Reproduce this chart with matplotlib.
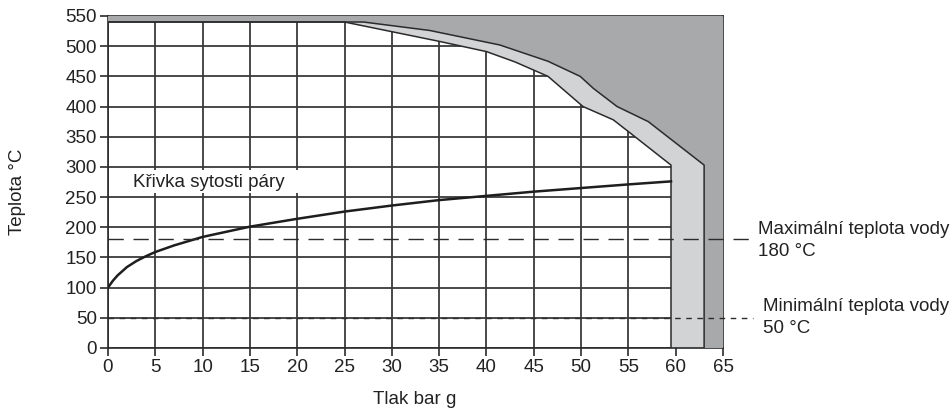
import matplotlib
matplotlib.use('Agg')
import matplotlib.pyplot as plt
from matplotlib.patches import Polygon, Rectangle

plt.rcParams['font.family'] = ['Liberation Sans', 'DejaVu Sans']
fs = 13.5
plt.rcParams['font.size'] = fs

# saturated steam curve (pressure bar g -> temperature degC)
sat_p = [0, 0.5, 1, 2, 3, 4, 5, 7, 10, 15, 20, 25, 30, 35, 40, 45, 50, 55, 59.5]
sat_t = [100, 111, 120, 134, 144, 152, 159, 170, 184, 201, 214, 226, 236, 245, 252, 259, 265, 271, 276]

# inner limit of the operating envelope
inner_p = [0, 25, 30, 35, 40, 43, 46.5, 48.5, 50.2, 53.4, 55.2, 59.5, 59.5]
inner_t = [540, 540, 524, 508, 491, 474, 450, 423, 400, 378, 356, 303, 0]

# outer limit
outer_p = [0, 27, 34, 41.4, 46.5, 49.9, 51.3, 53.8, 57.1, 63, 63]
outer_t = [540, 540, 526, 502, 475, 450, 430, 400, 375, 303, 0]

t_max_water = 180
t_min_water = 50

x_ticks = list(range(0, 66, 5))
y_ticks = list(range(0, 551, 50))

light_grey = '#d2d3d5'
dark_grey = '#a8a9ab'
line_col = '#2b2b2b'
text_col = '#222222'

fig = plt.figure(figsize=(9.52, 4.13), dpi=100)
ax = fig.add_axes([0.1134, 0.1574, 0.6461, 0.8039])

ax.set_xlim(0, 65)
ax.set_ylim(0, 550)
ax.set_xticks(x_ticks)
ax.set_yticks(y_ticks)
ax.grid(True, color='#3a3a3a', linewidth=1.3, zorder=0)
ax.set_axisbelow(True)
ax.tick_params(direction='out', length=6, width=1.2, color=line_col, labelsize=fs,
               labelcolor=text_col, pad=2)
for s in ax.spines.values():
    s.set_color(line_col)
    s.set_linewidth(1.2)

# envelope fills: light band first, dark region over it
corner = [(65, 0), (65, 550), (0, 550)]
light_pts = list(zip(inner_p, inner_t)) + corner
dark_pts = list(zip(outer_p, outer_t)) + corner
ax.add_patch(Polygon(light_pts, closed=True, facecolor=light_grey, edgecolor='none', zorder=2))
ax.add_patch(Polygon(dark_pts, closed=True, facecolor=dark_grey, edgecolor='none', zorder=3))
ax.plot(inner_p, inner_t, color=line_col, linewidth=1.1, zorder=4)
ax.plot(outer_p, outer_t, color=line_col, linewidth=1.1, zorder=4)

# label background
ax.add_patch(Rectangle((0.3, 257), 22.7, 38, facecolor='white', edgecolor='none', zorder=1))
ax.text(2.6, 274, 'Křivka sytosti páry', fontsize=fs, color=text_col, va='center', ha='left', zorder=5)

ax.plot(sat_p, sat_t, color='#1e1e1e', linewidth=1.8, zorder=5)

# water temperature limits
ax.plot([0, 68.2], [t_max_water, t_max_water], color=line_col, linewidth=1.0,
        dashes=(11, 7), clip_on=False, zorder=6)
ax.plot([0, 68.2], [t_min_water, t_min_water], color=line_col, linewidth=1.0,
        dashes=(4, 4), clip_on=False, zorder=6)
ax.text(68.7, 195.5, 'Maximální teplota vody', fontsize=fs, color=text_col, va='center', ha='left', clip_on=False)
ax.text(68.7, 159.5, f'{t_max_water} °C', fontsize=fs, color=text_col, va='center', ha='left', clip_on=False)
ax.text(69.2, 68.5, 'Minimální teplota vody', fontsize=fs, color=text_col, va='center', ha='left', clip_on=False)
ax.text(69.2, 33, f'{t_min_water} °C', fontsize=fs, color=text_col, va='center', ha='left', clip_on=False)

fig.text(415 / 952, 1 - 400 / 413, 'Tlak bar g', fontsize=fs, color=text_col, ha='center', va='center')
fig.text(18 / 952, 1 - 192 / 413, 'Teplota °C', fontsize=fs, color=text_col, ha='center', va='center',
         rotation=90)

fig.savefig('out.png', dpi=100)
